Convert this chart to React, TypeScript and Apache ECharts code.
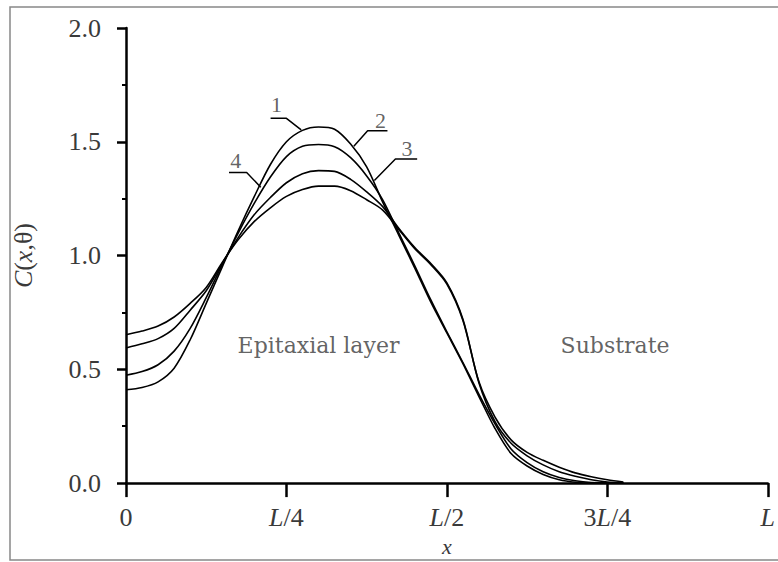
import React, { useEffect, useRef } from "react";
import * as echarts from "echarts";

// x positions in units of L
const xs = [0, 0.025, 0.05, 0.075, 0.1, 0.125, 0.15, 0.175, 0.2, 0.225, 0.25, 0.275, 0.3, 0.325, 0.35, 0.375, 0.4, 0.425, 0.45, 0.475, 0.5, 0.525, 0.55, 0.575, 0.6, 0.625, 0.65, 0.675, 0.7, 0.725, 0.75, 0.775];

const curve1 = [0.41, 0.42, 0.445, 0.505, 0.63, 0.79, 0.95, 1.11, 1.26, 1.4, 1.5, 1.55, 1.565, 1.555, 1.49, 1.39, 1.235, 1.09, 0.945, 0.795, 0.66, 0.525, 0.38, 0.24, 0.13, 0.075, 0.038, 0.015, 0.004, 0, 0, 0];
const curve2 = [0.474, 0.49, 0.52, 0.58, 0.68, 0.815, 0.96, 1.1, 1.23, 1.345, 1.435, 1.48, 1.488, 1.478, 1.43, 1.35, 1.245, 1.1, 0.955, 0.805, 0.665, 0.53, 0.39, 0.26, 0.15, 0.09, 0.05, 0.025, 0.01, 0.002, 0, 0];
const curve3 = [0.594, 0.612, 0.635, 0.68, 0.76, 0.845, 0.965, 1.08, 1.18, 1.255, 1.32, 1.36, 1.373, 1.37, 1.335, 1.28, 1.215, 1.12, 1.035, 0.965, 0.88, 0.72, 0.44, 0.27, 0.175, 0.12, 0.08, 0.05, 0.03, 0.015, 0.005, 0];
const curve4 = [0.652, 0.668, 0.69, 0.73, 0.79, 0.86, 0.97, 1.07, 1.15, 1.21, 1.26, 1.29, 1.305, 1.305, 1.285, 1.245, 1.2, 1.115, 1.03, 0.96, 0.875, 0.715, 0.445, 0.29, 0.19, 0.135, 0.1, 0.07, 0.045, 0.028, 0.015, 0.005];
const curves = [curve1, curve2, curve3, curve4];

const xTickLabels = ["0", "L/4", "L/2", "3L/4", "L"];
const yTickLabels = ["0.0", "0.5", "1.0", "1.5", "2.0"];

// curve number labels and their leader lines (data coordinates)
const curveNames = ["1", "2", "3", "4"];
const curveLabelPos = [[0.2346, 1.663], [0.3966, 1.595], [0.438, 1.471], [0.171, 1.416]];
const leaders = [
  [[0.2253, 1.603], [0.25, 1.603], [0.273, 1.552]],
  [[0.4074, 1.548], [0.3765, 1.548], [0.355, 1.48]],
  [[0.4537, 1.424], [0.4198, 1.424], [0.387, 1.33]],
  [[0.1605, 1.365], [0.188, 1.365], [0.21, 1.3]],
];

const regionNames = ["Epitaxial layer", "Substrate"];
const regionPos = [[0.3, 0.605], [0.762, 0.605]];

const SERIF = "Liberation Serif";
const TXT = "#3a3a3a";

export default function App() {
  const ref = useRef<HTMLDivElement>(null);
  useEffect(() => {
    document.body.style.margin = "0";
    const chart = echarts.init(ref.current!, null, { renderer: "svg" });
    const curveSeries = curves.map((c, k) => ({
      type: "line",
      name: "curve" + (k + 1),
      data: xs.map((x, i) => [x, c[i]]),
      symbol: "none",
      smooth: 0.3,
      lineStyle: { color: "#000", width: 1.6 },
      silent: true,
    }));
    const leaderSeries = leaders.map((l) => ({
      type: "line",
      data: l,
      symbol: "none",
      lineStyle: { color: "#000", width: 1.5 },
      silent: true,
    }));
    chart.setOption({
      animation: false,
      grid: { left: 126, right: 4, top: 28, bottom: 65 },
      graphic: [
        {
          type: "rect",
          shape: { x: 10, y: 7, width: 800, height: 553 },
          style: { fill: "none", stroke: "#888", lineWidth: 1.5 },
          silent: true,
          z: -10,
        },
      ],
      xAxis: {
        type: "value",
        min: 0,
        max: 1,
        interval: 0.25,
        axisLine: { show: true, lineStyle: { color: "#000", width: 2.5 } },
        axisTick: { show: true, length: 14, lineStyle: { color: "#000", width: 2.5 } },
        splitLine: { show: false },
        axisLabel: {
          margin: 21,
          fontFamily: SERIF,
          fontSize: 26,
          color: TXT,
          showMinLabel: true,
          showMaxLabel: true,
          formatter: (v: number) => {
            const s = xTickLabels[Math.round(v / 0.25)] || "";
            return s.replace("L", "{i|L}");
          },
          rich: { i: { fontFamily: SERIF, fontSize: 26, fontStyle: "italic", color: TXT } },
        },
        name: "x",
        nameLocation: "middle",
        nameGap: 42,
        nameTextStyle: { fontFamily: SERIF, fontSize: 22, fontStyle: "italic", color: TXT },
      },
      yAxis: {
        type: "value",
        min: 0,
        max: 2,
        interval: 0.5,
        axisLine: { show: true, lineStyle: { color: "#000", width: 2.5 } },
        axisTick: { show: true, length: 9, lineStyle: { color: "#000", width: 2.5 } },
        minorTick: { show: true, splitNumber: 2, length: 4, lineStyle: { color: "#000", width: 2 } },
        splitLine: { show: false },
        minorSplitLine: { show: false },
        axisLabel: {
          margin: 25,
          fontFamily: SERIF,
          fontSize: 26,
          color: TXT,
          formatter: (v: number) => yTickLabels[Math.round(v / 0.5)] || "",
        },
        name: "{i|C}({i|x},θ)",
        nameLocation: "middle",
        nameRotate: 90,
        nameGap: 90,
        nameTextStyle: {
          fontFamily: SERIF,
          fontSize: 26,
          color: TXT,
          rich: { i: { fontFamily: SERIF, fontSize: 26, fontStyle: "italic", color: TXT } },
        },
      },
      series: [
        ...curveSeries,
        ...leaderSeries,
        {
          type: "scatter",
          data: curveLabelPos.map((p, i) => ({ name: curveNames[i], value: p })),
          symbolSize: 0,
          silent: true,
          label: {
            show: true,
            position: "inside",
            formatter: "{b}",
            fontFamily: SERIF,
            fontSize: 22,
            color: TXT,
          },
        },
        {
          type: "scatter",
          data: regionPos.map((p, i) => ({ name: regionNames[i], value: p })),
          symbolSize: 0,
          silent: true,
          label: {
            show: true,
            position: "inside",
            formatter: "{b}",
            fontFamily: "DejaVu Serif",
            fontSize: 22,
            color: TXT,
          },
        },
      ],
    });
    return () => chart.dispose();
  }, []);
  return <div ref={ref} style={{ width: 778, height: 562 }} />;
}
